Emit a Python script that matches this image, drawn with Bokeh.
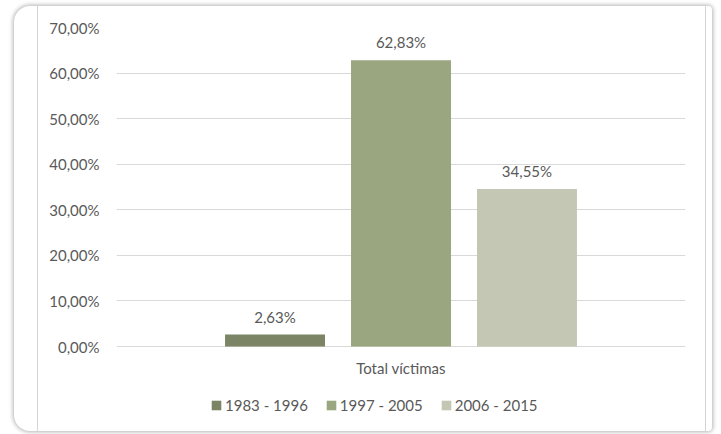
from bokeh.plotting import figure
from bokeh.models import (FactorRange, Range1d, FixedTicker, Legend, LegendItem,
                          ColumnDataSource, InlineStyleSheet)
from bokeh.transform import dodge
from bokeh.core.properties import value
from bokeh.embed import file_html
from bokeh.resources import INLINE

# --- data ---
category = ["Total víctimas"]
periods = ["1983 - 1996", "1997 - 2005", "2006 - 2015"]
shares = [2.63, 62.83, 34.55]          # % of total victims per period
colors = ["#7b8566", "#9aa67f", "#c3c7b3"]
y_ticks = [0, 10, 20, 30, 40, 50, 60, 70]

FONT = "Lato"
TEXT = "#595959"
GRID = "#d9d9d9"


def pct(v):
    return f"{v:.2f}".replace(".", ",") + "%"


# card-like frame behind the transparent canvas
frame_css = InlineStyleSheet(css="""
:host { position: relative; }
:host::before {
  content: ""; position: absolute; z-index: -1;
  left: 14px; top: 6px; width: 698px; height: 425px;
  background: #ffffff; border-radius: 16px 4px 4px 16px;
  box-shadow: 0 0 4px 1px rgba(0,0,0,0.30);
}
:host::after {
  content: ""; position: absolute; pointer-events: none;
  left: 37px; top: 6px; width: 667px; height: 425px;
  border-left: 1px solid #d4d4d4; border-right: 1px solid #d4d4d4;
}
""")

# plot area runs to the bottom edge so the legend can sit inside it;
# the lower y bound leaves room under the 0 % line for labels and legend
p = figure(width=721, height=434, x_range=FactorRange(*category),
           y_range=Range1d(-19.31, 70), output_backend="svg",
           toolbar_location=None, min_border_left=116, min_border_right=36,
           min_border_top=27, min_border_bottom=0)
p.stylesheets = [frame_css]
p.outline_line_color = None
p.background_fill_color = None
p.border_fill_color = None

offsets = [-0.2214, 0.0, 0.2214]
bar_w = 0.1757
items = []
for name, v, c, off in zip(periods, shares, colors, offsets):
    src = ColumnDataSource(dict(x=category, top=[v], lbl=[pct(v)]))
    r = p.vbar(x=dodge("x", off, range=p.x_range), top="top", bottom=0,
               width=bar_w, source=src, fill_color=c, line_color=None)
    p.text(x=dodge("x", off, range=p.x_range), y="top", text="lbl", source=src,
           text_align="center", text_baseline="alphabetic", y_offset=-18,
           text_font=value(FONT), text_font_size="15px", text_color=TEXT)
    items.append(LegendItem(label=name, renderers=[r]))

# category label under the 0 % line
cat_src = ColumnDataSource(dict(x=category, y=[0]))
p.text(x="x", y="y", text="x", source=cat_src, text_align="center",
       text_baseline="alphabetic", y_offset=21, text_font=value(FONT),
       text_font_size="15px", text_color=TEXT)

# axes
p.xaxis.visible = False
p.yaxis.ticker = FixedTicker(ticks=y_ticks)
p.yaxis.major_label_overrides = {t: pct(t) for t in y_ticks}
p.yaxis.axis_line_color = None
p.yaxis.major_tick_line_color = None
p.yaxis.minor_tick_line_color = None
p.yaxis.major_label_standoff = 11
p.yaxis.major_label_text_font = FONT
p.yaxis.major_label_text_font_size = "15px"
p.yaxis.major_label_text_color = TEXT

p.xgrid.grid_line_color = None
p.ygrid.grid_line_color = GRID
p.ygrid.grid_line_width = 1

legend = Legend(items=items, orientation="horizontal", location=(94, 20),
                glyph_width=12, glyph_height=12, label_standoff=3, spacing=17,
                padding=0, margin=0, border_line_color=None,
                background_fill_alpha=0, label_text_font=FONT,
                label_text_font_size="15px", label_text_color=TEXT,
                label_height=16)
p.add_layout(legend, "center")

open("out.html", "w").write(file_html(p, INLINE))
